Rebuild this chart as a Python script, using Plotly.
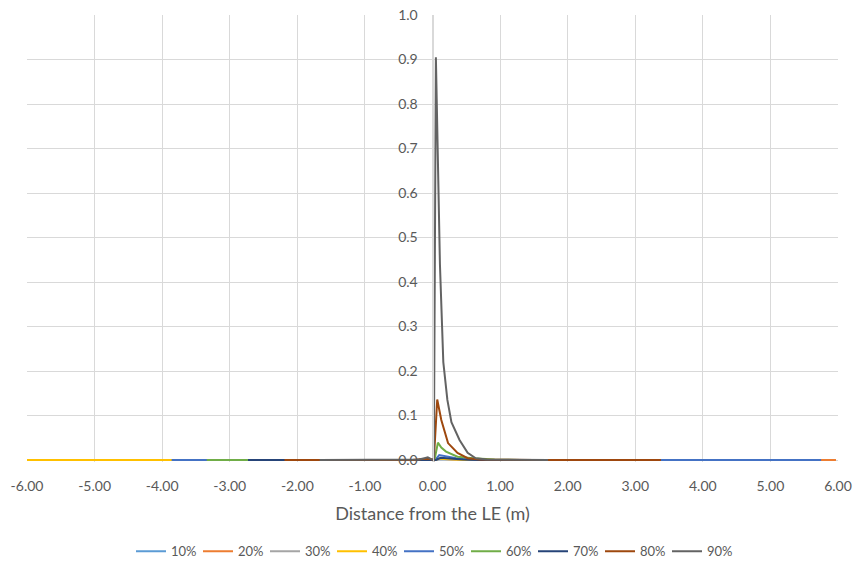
import plotly.graph_objects as go

# Series labels (station as % of span) and their Office-style line colours
labels = ["10%", "20%", "30%", "40%", "50%", "60%", "70%", "80%", "90%"]
colors = ["#5B9BD5", "#ED7D31", "#A5A5A5", "#FFC000", "#4472C4",
          "#70AD47", "#264478", "#9E480E", "#636363"]

# Axis ticks
x_ticks = [-6, -5, -4, -3, -2, -1, 0, 1, 2, 3, 4, 5, 6]
x_tick_text = ["-6.00", "-5.00", "-4.00", "-3.00", "-2.00", "-1.00", "0.00",
               "1.00", "2.00", "3.00", "4.00", "5.00", "6.00"]

# Distance from the leading edge (m) and value for each station
x10 = [-5.50, -2.00, -0.30, 0.00, 0.04, 0.12, 0.30, 0.60, 2.00, 5.90]
y10 = [0.000, 0.000, 0.000, 0.000, 0.000, 0.002, 0.001, 0.000, 0.000, 0.000]

x20 = [-5.90, -2.00, -0.30, 0.00, 0.04, 0.10, 0.25, 0.50, 2.00, 5.97]
y20 = [0.000, 0.000, 0.000, 0.000, 0.000, 0.003, 0.002, 0.000, 0.000, 0.000]

x30 = [-4.90, -2.00, -0.30, 0.00, 0.04, 0.12, 0.30, 0.60, 2.00, 5.30]
y30 = [0.000, 0.000, 0.000, 0.000, 0.000, 0.002, 0.001, 0.000, 0.000, 0.000]

x40 = [-6.00, -2.00, -0.30, 0.00, 0.04, 0.10, 0.25, 0.50, 2.00, 5.00]
y40 = [0.000, 0.000, 0.000, 0.000, 0.000, 0.003, 0.002, 0.000, 0.000, 0.000]

x50 = [-3.86, -1.00, 0.00, 0.04, 0.10, 0.20, 0.35, 0.55, 0.80, 2.00, 5.75]
y50 = [0.000, 0.000, 0.000, 0.000, 0.011, 0.008, 0.004, 0.001, 0.000, 0.000, 0.000]

x60 = [-3.34, -1.50, -0.20, 0.00, 0.03, 0.08, 0.13, 0.20, 0.37, 0.60, 0.92, 1.30, 3.00]
y60 = [0.000, 0.000, 0.000, 0.000, 0.000, 0.039, 0.028, 0.019, 0.0075, 0.004, 0.001, 0.000, 0.000]

x70 = [-2.73, -0.50, 0.00, 0.05, 0.12, 0.25, 0.45, 0.70, 2.60]
y70 = [0.000, 0.000, 0.000, 0.000, 0.005, 0.003, 0.001, 0.000, 0.000]

x80 = [-2.19, -1.00, -0.30, -0.15, -0.05, 0.00, 0.02, 0.07, 0.13, 0.23, 0.37, 0.52, 0.70, 1.50, 3.38]
y80 = [0.000, 0.000, 0.000, 0.002, 0.003, 0.001, 0.000, 0.136, 0.090, 0.038, 0.016, 0.004, 0.001, 0.000, 0.000]

x90 = [-1.67, -0.60, -0.20, -0.12, -0.07, -0.02, 0.02, 0.05, 0.11, 0.16, 0.22, 0.28, 0.40, 0.52, 0.64, 0.80, 1.20, 1.71]
y90 = [0.000, 0.000, 0.001, 0.004, 0.006, 0.002, 0.000, 0.905, 0.440, 0.220, 0.135, 0.085, 0.045, 0.016, 0.004, 0.001, 0.000, 0.000]

xs = [x10, x20, x30, x40, x50, x60, x70, x80, x90]
ys = [y10, y20, y30, y40, y50, y60, y70, y80, y90]

FONT = "Lato"
TEXT = "#595959"
GRID = "#D9D9D9"

fig = go.Figure()
for name, col, xv, yv in zip(labels, colors, xs, ys):
    fig.add_trace(go.Scatter(x=xv, y=yv, name=name, mode="lines",
                             line=dict(color=col, width=2)))

fig.update_layout(
    width=858, height=561,
    margin=dict(l=27, r=20, t=15, b=99, autoexpand=False),
    paper_bgcolor="white", plot_bgcolor="white",
    font=dict(family=FONT, color=TEXT, size=13),
    showlegend=True,
    legend=dict(orientation="h", x=0.5, xanchor="center", y=-0.2, yanchor="middle",
                font=dict(size=13, color=TEXT), traceorder="normal",
                entrywidth=22, entrywidthmode="pixels"),
    xaxis=dict(range=[-6, 6], tickvals=x_ticks, ticktext=x_tick_text,
               showgrid=True, gridcolor=GRID, gridwidth=1, zeroline=False,
               showline=False, ticks="", ticklabelstandoff=14, automargin=False,
               tickfont=dict(size=14, color=TEXT),
               title=dict(text="Distance from the LE (m)", font=dict(size=18, color=TEXT),
                          standoff=14)),
    # a sliver below zero keeps the baseline strokes fully visible
    yaxis=dict(range=[-0.0045, 1], dtick=0.1, tick0=0, tickformat=".1f",
               showgrid=True, gridcolor=GRID, gridwidth=1, zeroline=False,
               anchor="free", position=0.5, showline=True, linecolor=GRID, linewidth=1,
               ticks="", ticklabelstandoff=12, automargin=False,
               tickfont=dict(size=14, color=TEXT)),
)

fig.write_html("out.html")
